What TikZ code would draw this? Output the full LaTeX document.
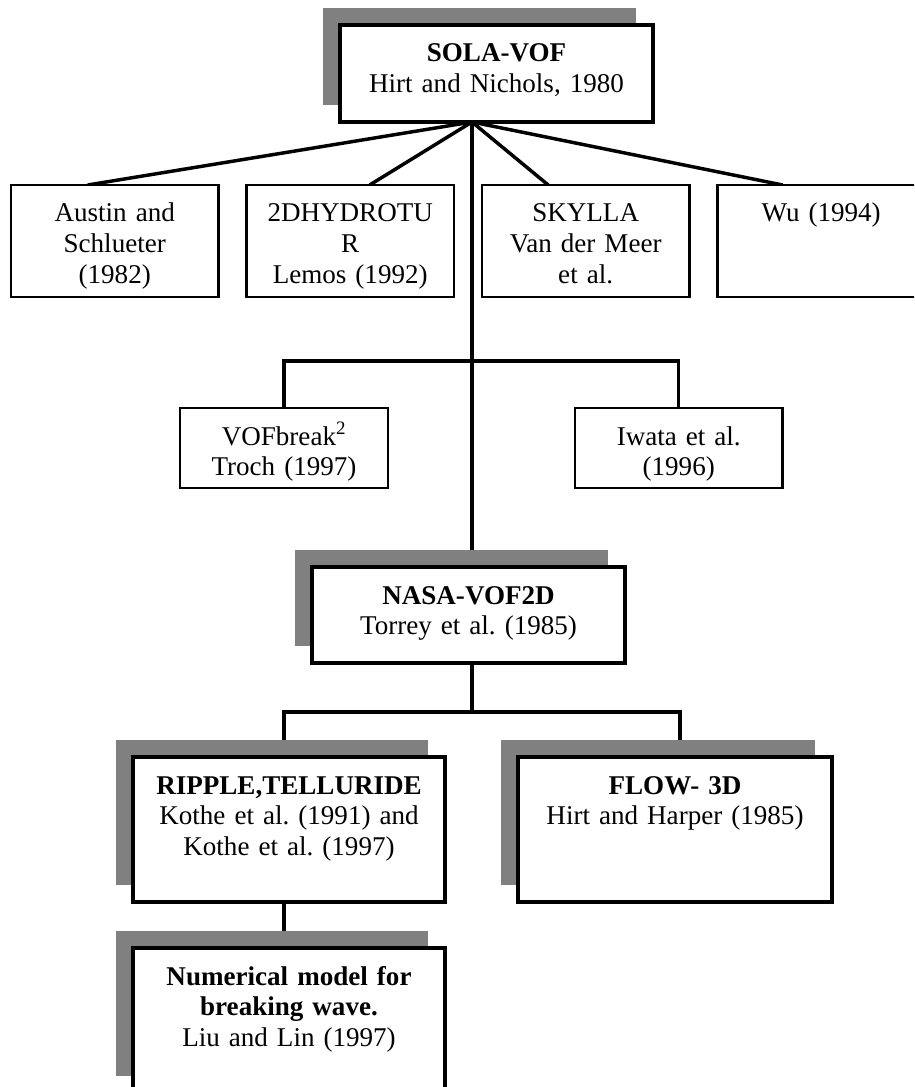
\documentclass[tikz,border=0pt]{standalone}
\usepackage{fontspec}
\setmainfont{Liberation Serif}
\usetikzlibrary{positioning, shadows, backgrounds}
\frenchspacing

\begin{document}
\begin{tikzpicture}[x=0.75pt, y=-0.75pt, node distance=21pt,
	box/.style={draw, fill=white, line width=2.1pt, outer sep=0pt, align=center, inner xsep=3pt, inner ysep=0pt, text height=27.75pt, font=\fontsize{20.3}{23}\selectfont},
	lead/.style={box, line width=3pt, drop shadow={shadow xshift=-12.4pt, shadow yshift=12.4pt, opacity=1, fill=gray}},
	boxsize/.style 2 args={text width=#1, text depth=#2},
	link/.style={line width=2.6pt}]
	\useasboundingbox (0,0) rectangle (914,1087);
	\clip (0,0) rectangle (914,1087);

	\node[lead, boxsize={228.75pt}{45pt}, anchor=north west]    (sola)   at (340,25)  {\textbf{SOLA-VOF}\\Hirt and Nichols, 1980};
	\node[box, boxsize={149.6pt}{56.25pt}, anchor=north west]   (austin) at (11,185)  {Austin and\\Schlueter\\(1982)};
	\node[box, boxsize={149.6pt}{56.25pt}]                      (hydro)  [right=of austin] {2DHYDROTU\\R\\Lemos (1992)};
	\node[box, boxsize={149.6pt}{56.25pt}]                      (skylla) [right=of hydro]  {SKYLLA\\Van der Meer\\et al.};
	\node[box, boxsize={149.6pt}{56.25pt}]                      (wu)     [right=of skylla] {Wu (1994)};
	\node[box, boxsize={150pt}{32.25pt}, anchor=north west]     (vof)    at (180,408) {VOFbreak\textsuperscript{2}\\Troch (1997)};
	\node[box, boxsize={149.6pt}{32.25pt}]                      (iwata)  [right=140.25pt of vof] {Iwata et al.\\(1996)};
	\node[lead, boxsize={228.75pt}{44.25pt}, anchor=north west] (nasa)   at (312,567) {\textbf{NASA-VOF2D}\\Torrey et al. (1985)};
	\node[lead, boxsize={228pt}{81pt}, anchor=north west]       (ripple) at (133,757) {\textbf{RIPPLE,TELLURIDE}\\Kothe et al. (1991) and\\Kothe et al. (1997)};
	\node[lead, boxsize={229.5pt}{81pt}]                        (flow)   [right=54.75pt of ripple] {\textbf{FLOW- 3D}\\Hirt and Harper (1985)};
	\node[lead, boxsize={228pt}{81pt}, anchor=north west]       (liu)    at (133,948) {\textbf{Numerical model for}\\\textbf{breaking wave.}\\Liu and Lin (1997)};

	\coordinate (hub)  at ([xshift=-18.4pt]sola.south);
	\coordinate (bus1) at (hub |- 0,361);
	\coordinate (bus2) at (hub |- 0,712);

	\begin{scope}[on background layer]
		\draw[link] (hub) -- ([xshift=-20.25pt]austin.north);
		\draw[link] (hub) -- ([xshift=14.6pt]hydro.north);
		\draw[link] (hub) -- ([xshift=-28.1pt]skylla.north);
		\draw[link] (hub) -- ([xshift=-28.9pt]wu.north);
		\draw[link] (hub) -- (hub |- nasa.north);
		\draw[link] (vof.north) |- (bus1) -| (iwata.north);
		\draw[link] (hub |- nasa.south) -- (bus2);
		\draw[link] ([xshift=-3.75pt]ripple.north) |- (bus2) -| ([xshift=3.75pt]flow.north);
		\draw[link] ([xshift=-3.75pt]ripple.south) -- ([xshift=-3.75pt]liu.north);
	\end{scope}
\end{tikzpicture}
\end{document}
